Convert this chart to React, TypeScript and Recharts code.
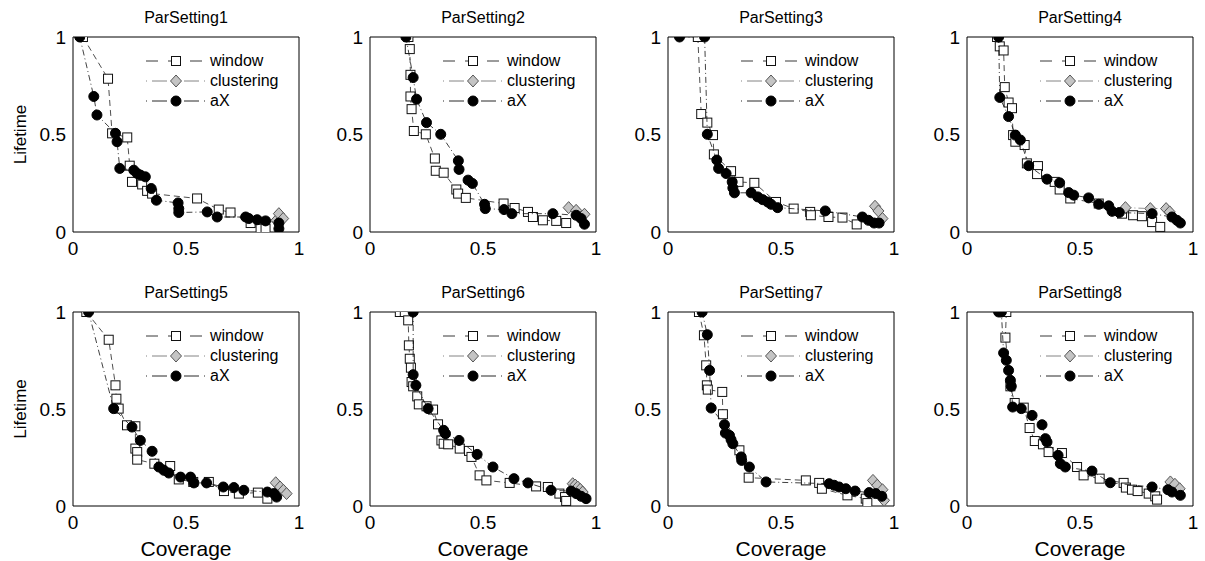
import React from "react";
import { ScatterChart, Scatter, XAxis, YAxis, ReferenceArea, Legend } from "recharts";

type Pt = [number, number];

const titles = [
  "ParSetting1",
  "ParSetting2",
  "ParSetting3",
  "ParSetting4",
  "ParSetting5",
  "ParSetting6",
  "ParSetting7",
  "ParSetting8",
];

const axisTicks = [0, 0.5, 1];
const seriesNames = ["window", "clustering", "aX"];

// ParSetting1
const window1: Pt[] = [[0.044, 1], [0.155, 0.786], [0.173, 0.506], [0.24, 0.485], [0.251, 0.34], [0.261, 0.257], [0.306, 0.244], [0.328, 0.211], [0.35, 0.197], [0.549, 0.172], [0.645, 0.115], [0.697, 0.1], [0.786, 0.046], [0.83, 0.017], [0.852, 0.017]];
const clustering1: Pt[] = [[0.9, 0.06], [0.911, 0.094], [0.93, 0.069]];
const ax1: Pt[] = [[0.03, 1], [0.092, 0.695], [0.106, 0.6], [0.188, 0.506], [0.195, 0.463], [0.207, 0.326], [0.269, 0.317], [0.284, 0.3], [0.298, 0.292], [0.32, 0.283], [0.346, 0.223], [0.369, 0.163], [0.465, 0.149], [0.468, 0.12], [0.468, 0.1], [0.594, 0.103], [0.638, 0.077], [0.764, 0.077], [0.778, 0.069], [0.815, 0.063], [0.852, 0.057], [0.911, 0.046], [0.911, 0.017]];

// ParSetting2
const window2: Pt[] = [[0.17, 1], [0.176, 0.938], [0.179, 0.806], [0.179, 0.695], [0.184, 0.63], [0.194, 0.518], [0.247, 0.501], [0.287, 0.377], [0.291, 0.314], [0.326, 0.304], [0.382, 0.218], [0.39, 0.197], [0.424, 0.175], [0.591, 0.146], [0.64, 0.123], [0.699, 0.103], [0.721, 0.077], [0.765, 0.06], [0.824, 0.057], [0.868, 0.046]];
const clustering2: Pt[] = [[0.879, 0.125], [0.912, 0.111], [0.949, 0.091]];
const ax2: Pt[] = [[0.159, 1], [0.191, 0.792], [0.206, 0.681], [0.25, 0.561], [0.313, 0.501], [0.391, 0.365], [0.394, 0.321], [0.434, 0.266], [0.453, 0.249], [0.507, 0.142], [0.51, 0.12], [0.593, 0.115], [0.628, 0.094], [0.809, 0.094], [0.912, 0.086], [0.934, 0.069], [0.949, 0.04]];

// ParSetting3
const window3: Pt[] = [[0.132, 1], [0.147, 0.605], [0.174, 0.561], [0.199, 0.497], [0.203, 0.398], [0.279, 0.312], [0.312, 0.257], [0.382, 0.252], [0.478, 0.154], [0.556, 0.12], [0.629, 0.103], [0.632, 0.086], [0.71, 0.077], [0.772, 0.074], [0.835, 0.039]];
const clustering3: Pt[] = [[0.916, 0.132], [0.931, 0.108], [0.949, 0.069]];
const ax3: Pt[] = [[0.051, 1], [0.162, 1], [0.174, 0.501], [0.216, 0.369], [0.224, 0.326], [0.257, 0.3], [0.284, 0.257], [0.287, 0.226], [0.294, 0.201], [0.368, 0.201], [0.397, 0.18], [0.419, 0.166], [0.441, 0.154], [0.456, 0.142], [0.485, 0.125], [0.696, 0.108], [0.86, 0.077], [0.887, 0.06], [0.912, 0.046], [0.934, 0.046]];

// ParSetting4
const window4: Pt[] = [[0.133, 1], [0.145, 0.952], [0.162, 0.931], [0.167, 0.743], [0.184, 0.664], [0.199, 0.635], [0.204, 0.497], [0.214, 0.463], [0.255, 0.446], [0.265, 0.352], [0.314, 0.338], [0.31, 0.297], [0.388, 0.257], [0.41, 0.218], [0.457, 0.172], [0.583, 0.146], [0.686, 0.094], [0.735, 0.086], [0.774, 0.081], [0.819, 0.051], [0.855, 0.026]];
const clustering4: Pt[] = [[0.701, 0.125], [0.811, 0.12], [0.881, 0.12], [0.897, 0.103]];
const ax4: Pt[] = [[0.14, 1], [0.145, 0.69], [0.184, 0.592], [0.214, 0.497], [0.236, 0.472], [0.273, 0.34], [0.354, 0.271], [0.41, 0.252], [0.45, 0.202], [0.472, 0.189], [0.538, 0.175], [0.583, 0.142], [0.627, 0.134], [0.642, 0.106], [0.674, 0.1], [0.819, 0.094], [0.907, 0.077], [0.929, 0.06], [0.944, 0.046]];

// ParSetting5
const window5: Pt[] = [[0.059, 1], [0.158, 0.857], [0.188, 0.622], [0.192, 0.553], [0.202, 0.502], [0.239, 0.416], [0.276, 0.411], [0.276, 0.296], [0.284, 0.278], [0.284, 0.239], [0.36, 0.218], [0.43, 0.206], [0.468, 0.137], [0.532, 0.124], [0.601, 0.124], [0.668, 0.077], [0.734, 0.064], [0.818, 0.069], [0.86, 0.038]];
const clustering5: Pt[] = [[0.897, 0.12], [0.916, 0.098], [0.931, 0.081], [0.945, 0.064]];
const ax5: Pt[] = [[0.069, 1], [0.18, 0.502], [0.261, 0.407], [0.298, 0.338], [0.35, 0.282], [0.38, 0.201], [0.402, 0.184], [0.424, 0.17], [0.476, 0.149], [0.52, 0.149], [0.535, 0.119], [0.591, 0.119], [0.665, 0.098], [0.712, 0.095], [0.756, 0.081], [0.86, 0.072], [0.889, 0.064], [0.901, 0.046]];

// ParSetting6
const window6: Pt[] = [[0.132, 1], [0.154, 1], [0.169, 0.957], [0.172, 0.828], [0.176, 0.759], [0.181, 0.713], [0.184, 0.639], [0.191, 0.617], [0.209, 0.565], [0.216, 0.524], [0.25, 0.514], [0.279, 0.497], [0.301, 0.421], [0.316, 0.338], [0.326, 0.321], [0.346, 0.318], [0.397, 0.296], [0.438, 0.284], [0.449, 0.253], [0.485, 0.158], [0.515, 0.132], [0.618, 0.119], [0.735, 0.101], [0.787, 0.098], [0.838, 0.064], [0.863, 0.046], [0.868, 0.026]];
const clustering6: Pt[] = [[0.897, 0.115], [0.908, 0.108], [0.919, 0.098], [0.93, 0.086], [0.941, 0.072]];
const ax6: Pt[] = [[0.191, 1], [0.191, 0.677], [0.203, 0.622], [0.257, 0.502], [0.326, 0.39], [0.334, 0.373], [0.394, 0.338], [0.474, 0.266], [0.544, 0.201], [0.637, 0.141], [0.699, 0.119], [0.801, 0.081], [0.89, 0.077], [0.912, 0.064], [0.934, 0.05], [0.956, 0.038]];

// ParSetting7
const window7: Pt[] = [[0.137, 1], [0.159, 0.88], [0.169, 0.725], [0.172, 0.622], [0.176, 0.6], [0.24, 0.588], [0.243, 0.473], [0.316, 0.287], [0.357, 0.146], [0.61, 0.132], [0.669, 0.119], [0.681, 0.089], [0.794, 0.055], [0.875, 0.038], [0.882, 0.015]];
const clustering7: Pt[] = [[0.907, 0.132], [0.926, 0.107], [0.949, 0.084], [0.956, 0.029]];
const ax7: Pt[] = [[0.151, 1], [0.174, 0.883], [0.184, 0.699], [0.191, 0.505], [0.25, 0.419], [0.254, 0.376], [0.272, 0.364], [0.279, 0.342], [0.287, 0.321], [0.324, 0.253], [0.326, 0.235], [0.36, 0.201], [0.434, 0.124], [0.713, 0.115], [0.735, 0.107], [0.757, 0.098], [0.787, 0.089], [0.828, 0.077], [0.89, 0.069], [0.919, 0.064], [0.946, 0.05]];

// ParSetting8
const window8: Pt[] = [[0.174, 1], [0.17, 0.868], [0.192, 0.617], [0.211, 0.531], [0.251, 0.507], [0.277, 0.402], [0.3, 0.335], [0.336, 0.318], [0.361, 0.278], [0.42, 0.273], [0.487, 0.201], [0.516, 0.158], [0.587, 0.141], [0.693, 0.119], [0.703, 0.095], [0.73, 0.084], [0.755, 0.077], [0.804, 0.064], [0.833, 0.05], [0.841, 0.033]];
const clustering8: Pt[] = [[0.9, 0.124], [0.92, 0.112], [0.941, 0.089]];
const ax8: Pt[] = [[0.14, 1], [0.152, 1], [0.162, 0.789], [0.174, 0.751], [0.184, 0.699], [0.192, 0.648], [0.196, 0.617], [0.202, 0.51], [0.24, 0.502], [0.288, 0.467], [0.332, 0.419], [0.347, 0.347], [0.354, 0.33], [0.403, 0.261], [0.413, 0.218], [0.435, 0.201], [0.553, 0.18], [0.634, 0.12], [0.819, 0.098], [0.889, 0.084], [0.907, 0.072], [0.944, 0.055]];

const windowSets = [window1, window2, window3, window4, window5, window6, window7, window8];
const clusteringSets = [clustering1, clustering2, clustering3, clustering4, clustering5, clustering6, clustering7, clustering8];
const axSets = [ax1, ax2, ax3, ax4, ax5, ax6, ax7, ax8];

// layout
const FONT = "'Liberation Sans', Arial, Helvetica, sans-serif";
const Y_AXIS_W = 70;
const PLOT_W = 226;
const plotLefts = [73, 370, 668, 967];
const plotTops = [37, 312];
const plotHeights = [195, 194];
const chartTops = [0, 280];

const toXY = (pts: Pt[]) => pts.map(([x, y]) => ({ x, y }));

// eslint-disable-next-line @typescript-eslint/no-explicit-any
const SquareMark = (p: any) => (
  <rect x={p.cx - 4.5} y={p.cy - 4.5} width={9} height={9} fill="#fff" stroke="#111" strokeWidth={1} />
);
// eslint-disable-next-line @typescript-eslint/no-explicit-any
const DiamondMark = (p: any) => (
  <polygon
    points={`${p.cx},${p.cy - 6} ${p.cx + 5.5},${p.cy} ${p.cx},${p.cy + 6} ${p.cx - 5.5},${p.cy}`}
    fill="#c4c4c4"
    stroke="#555"
    strokeWidth={1}
  />
);
// eslint-disable-next-line @typescript-eslint/no-explicit-any
const CircleMark = (p: any) => <circle cx={p.cx} cy={p.cy} r={5} fill="#000" stroke="#000" />;

// eslint-disable-next-line @typescript-eslint/no-explicit-any
const seriesStyle: Record<string, { stroke: string; dash: string; legendDash: string; mark: (p: any) => React.ReactElement }> = {
  window: { stroke: "#222", dash: "6 4", legendDash: "12 10", mark: SquareMark },
  clustering: { stroke: "#777", dash: "6 3 1 3", legendDash: "1 5 15 17 15 5", mark: DiamondMark },
  aX: { stroke: "#111", dash: "6 3 1 3", legendDash: "1 5 15 17 15 5", mark: CircleMark },
};

// eslint-disable-next-line @typescript-eslint/no-explicit-any
function LegendBox({ payload }: any) {
  // eslint-disable-next-line @typescript-eslint/no-explicit-any
  const items = seriesNames.filter((n) => (payload ?? []).some((e: any) => e.value === n));
  return (
    <div style={{ fontFamily: FONT, fontSize: 16, color: "#000" }}>
      {items.map((name) => {
        const s = seriesStyle[name];
        return (
          <div key={name} style={{ display: "flex", alignItems: "center", height: 20 }}>
            <svg width={64} height={20} style={{ display: "block" }}>
              <line x1={0} x2={60} y1={10} y2={10} stroke={s.stroke} strokeWidth={0.9} strokeDasharray={s.legendDash} />
              {s.mark({ cx: 30, cy: 10 })}
            </svg>
            <span style={{ lineHeight: "20px" }}>{name}</span>
          </div>
        );
      })}
    </div>
  );
}

function Panel({ idx }: { idx: number }) {
  const col = idx % 4;
  const row = Math.floor(idx / 4);
  const plotLeft = plotLefts[col];
  const plotTop = plotTops[row];
  const plotH = plotHeights[row];
  const chartTop = chartTops[row];
  const xAxisH = row === 1 ? 56 : 30;
  const topMargin = plotTop - chartTop;
  const chartW = Y_AXIS_W + PLOT_W + 8;
  const chartH = topMargin + plotH + xAxisH;
  const tickStyle = { fill: "#000", fontSize: 19 };

  return (
    <div style={{ position: "absolute", left: plotLeft - Y_AXIS_W, top: chartTop }}>
      <ScatterChart width={chartW} height={chartH} margin={{ top: topMargin, right: 8, bottom: 0, left: 0 }}>
        <XAxis
          xAxisId="b"
          type="number"
          dataKey="x"
          domain={[0, 1]}
          ticks={axisTicks}
          allowDataOverflow
          tickLine={false}
          axisLine={false}
          tickMargin={4}
          tick={tickStyle}
          height={xAxisH}
          label={row === 1 ? { value: "Coverage", position: "insideBottom", offset: 6, fill: "#000", fontSize: 21 } : undefined}
        />
        <XAxis xAxisId="bm" type="number" orientation="bottom" mirror domain={[0, 1]} ticks={axisTicks} allowDataOverflow tick={false} axisLine={false} tickSize={4} tickLine={{ stroke: "#000" }} />
        <XAxis xAxisId="t" type="number" orientation="top" mirror domain={[0, 1]} ticks={axisTicks} allowDataOverflow tick={false} axisLine={false} tickSize={4} tickLine={{ stroke: "#000" }} />
        <YAxis
          yAxisId="l"
          type="number"
          dataKey="y"
          domain={[0, 1]}
          ticks={axisTicks}
          allowDataOverflow
          tickLine={false}
          axisLine={false}
          tickMargin={1}
          tick={tickStyle}
          width={Y_AXIS_W}
          label={
            col === 0
              ? { value: "Lifetime", angle: -90, position: "insideLeft", offset: 17, fill: "#000", fontSize: 17, style: { textAnchor: "middle" } }
              : undefined
          }
        />
        <YAxis yAxisId="lm" type="number" orientation="left" mirror domain={[0, 1]} ticks={axisTicks} allowDataOverflow tick={false} axisLine={false} tickSize={4} tickLine={{ stroke: "#000" }} />
        <YAxis yAxisId="r" type="number" orientation="right" mirror domain={[0, 1]} ticks={axisTicks} allowDataOverflow tick={false} axisLine={false} tickSize={4} tickLine={{ stroke: "#000" }} />
        <ReferenceArea
          xAxisId="b"
          yAxisId="l"
          x1={0}
          x2={1}
          y1={0}
          y2={1}
          fill="none"
          fillOpacity={0}
          stroke="#000"
          strokeWidth={1}
          label={{ value: titles[idx], position: "top", offset: 14, fill: "#000", fontSize: 16 }}
        />
        <Scatter
          name="window"
          xAxisId="b"
          yAxisId="l"
          data={toXY(windowSets[idx])}
          shape={SquareMark}
          line={{ stroke: seriesStyle.window.stroke, strokeWidth: 0.8, strokeDasharray: seriesStyle.window.dash }}
          lineType="joint"
          isAnimationActive={false}
        />
        <Scatter
          name="clustering"
          xAxisId="b"
          yAxisId="l"
          data={toXY(clusteringSets[idx])}
          shape={DiamondMark}
          line={{ stroke: seriesStyle.clustering.stroke, strokeWidth: 0.8, strokeDasharray: seriesStyle.clustering.dash }}
          lineType="joint"
          isAnimationActive={false}
        />
        <Scatter
          name="aX"
          xAxisId="b"
          yAxisId="l"
          data={toXY(axSets[idx])}
          shape={CircleMark}
          line={{ stroke: seriesStyle.aX.stroke, strokeWidth: 0.8, strokeDasharray: seriesStyle.aX.dash }}
          lineType="joint"
          isAnimationActive={false}
        />
        <Legend
          layout="vertical"
          align="center"
          verticalAlign="middle"
          content={<LegendBox />}
          wrapperStyle={{ position: "absolute", left: Y_AXIS_W + 73, top: topMargin + 14, width: "auto", height: "auto" }}
        />
      </ScatterChart>
    </div>
  );
}

export default function App() {
  return (
    <div style={{ position: "absolute", left: 0, top: 0, width: 1205, height: 561, background: "#fff", fontFamily: FONT }}>
      {titles.map((_, i) => (
        <Panel key={i} idx={i} />
      ))}
    </div>
  );
}
